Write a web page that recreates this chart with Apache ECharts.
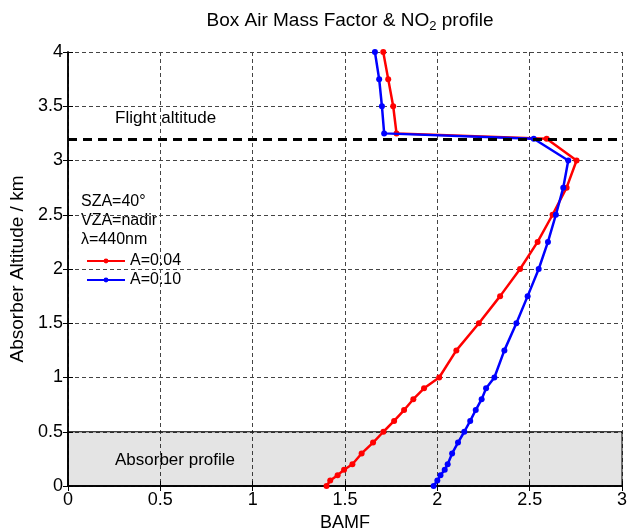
<!DOCTYPE html>
<html>
<head>
<meta charset="utf-8">
<script src="https://cdn.jsdelivr.net/npm/echarts@6/dist/echarts.min.js"></script>
<style>
  html, body { margin: 0; padding: 0; background: #fff; }
  #chart { width: 627px; height: 529px; }
</style>
</head>
<body>
<div id="chart"></div>
<script>
// Absorber layer altitudes (km) at which the box AMF was computed
const altitudes = [0, 0.05, 0.1, 0.15, 0.2, 0.3, 0.4, 0.5, 0.6, 0.7, 0.8, 0.9, 1.0,
  1.25, 1.5, 1.75, 2.0, 2.25, 2.5, 2.75, 3.0, 3.2, 3.25, 3.5, 3.75, 4.0];

// Box air mass factors for surface albedo 0.04
const bamfA004 = [1.40, 1.42, 1.46, 1.495, 1.54, 1.59, 1.652, 1.708, 1.766, 1.82, 1.87, 1.928, 2.01,
  2.103, 2.225, 2.34, 2.448, 2.543, 2.624, 2.70, 2.754, 2.592, 1.779, 1.761, 1.734, 1.707];

// Box air mass factors for surface albedo 0.10
const bamfA010 = [1.98, 2.0, 2.017, 2.04, 2.056, 2.08, 2.112, 2.146, 2.178, 2.208, 2.24, 2.264, 2.309,
  2.363, 2.428, 2.489, 2.549, 2.599, 2.642, 2.682, 2.709, 2.522, 1.712, 1.70, 1.685, 1.662];

const seriesNames = ['A=0.04', 'A=0.10'];
const flightAltitude = 3.2;
const absorberTop = 0.5;
const xTicks = ['0', '0.5', '1', '1.5', '2', '2.5', '3'];
const yTicks = ['0', '0.5', '1', '1.5', '2', '2.5', '3', '3.5', '4'];
const infoLines = ['SZA=40°', 'VZA=nadir', 'λ=440nm'];

const FONT = 'Liberation Sans, Arial, sans-serif';

function pairs(xs) {
  return xs.map((x, i) => [x, altitudes[i]]);
}

const chart = echarts.init(document.getElementById('chart'), null, { renderer: 'canvas' });

const axisCommon = {
  axisLine: { show: true, lineStyle: { color: '#000', width: 1.5 } },
  axisTick: { show: true, inside: true, length: 5, lineStyle: { color: '#000', width: 1 } }
};

const option = {
  animation: false,
  backgroundColor: '#fff',
  title: {
    text: 'Box Air Mass Factor & NO{sub|2} profile',
    left: 345,
    textAlign: 'center',
    top: 4,
    textStyle: {
      fontFamily: FONT, fontSize: 19, fontWeight: 'normal', color: '#000',
      rich: {
        sub: { fontFamily: FONT, fontSize: 13, color: '#000', padding: [11, 0, 0, 0] }
      }
    }
  },
  grid: { left: 68, right: 5, top: 52, bottom: 43, outerBoundsMode: 'none', containLabel: false },
  legend: {
    data: seriesNames,
    orient: 'vertical',
    left: 81,
    top: 248,
    itemWidth: 38,
    itemHeight: 6,
    itemGap: 3,
    textStyle: { fontFamily: FONT, fontSize: 16, color: '#000' }
  },
  xAxis: [{
    type: 'value', min: 0, max: 3, interval: 0.5,
    name: 'BAMF', nameLocation: 'middle', nameGap: 25,
    nameTextStyle: { fontFamily: FONT, fontSize: 18, color: '#000' },
    axisLabel: {
      fontFamily: FONT, fontSize: 18, color: '#000', margin: 5,
      formatter: (v) => xTicks[Math.round(v / 0.5)]
    },
    splitLine: { show: true, lineStyle: { color: '#444', width: 1, type: [4, 3] } },
    ...axisCommon
  }, {
    type: 'value', min: 0, max: 3, interval: 0.5, position: 'top',
    axisLabel: { show: false }, splitLine: { show: false },
    ...axisCommon
  }],
  yAxis: [{
    type: 'value', min: 0, max: 4, interval: 0.5,
    name: 'Absorber Altitude / km', nameLocation: 'middle', nameGap: 32,
    nameTextStyle: { fontFamily: FONT, fontSize: 19, color: '#000' },
    axisLabel: {
      fontFamily: FONT, fontSize: 18, color: '#000', margin: 5,
      formatter: (v) => yTicks[Math.round(v / 0.5)]
    },
    splitLine: { show: true, lineStyle: { color: '#444', width: 1, type: [4, 3] } },
    ...axisCommon
  }, {
    type: 'value', min: 0, max: 4, interval: 0.5, position: 'right',
    axisLabel: { show: false }, splitLine: { show: false },
    ...axisCommon
  }],
  series: [
    {
      // absorber profile band and flight altitude marker
      type: 'line', data: [], silent: true,
      markArea: {
        silent: true,
        itemStyle: { color: 'rgba(0,0,0,0.105)', borderColor: '#000', borderWidth: 1 },
        data: [[{ yAxis: 0 }, { yAxis: absorberTop }]]
      },
      markLine: {
        silent: true, symbol: 'none', label: { show: false },
        lineStyle: { color: '#000', width: 3, type: [9, 6] },
        data: [{ yAxis: flightAltitude }]
      }
    },
    {
      name: seriesNames[0], type: 'line', data: pairs(bamfA004),
      color: '#ff0000', symbol: 'circle', symbolSize: 6,
      lineStyle: { width: 2.5, color: '#ff0000' }, itemStyle: { color: '#ff0000' }, z: 3
    },
    {
      name: seriesNames[1], type: 'line', data: pairs(bamfA010),
      color: '#0000ff', symbol: 'circle', symbolSize: 6,
      lineStyle: { width: 2.5, color: '#0000ff' }, itemStyle: { color: '#0000ff' }, z: 4
    }
  ],
  graphic: [
    { type: 'text', left: 115, top: 110, style: { text: 'Flight altitude', font: '17px ' + FONT, fill: '#000' } },
    { type: 'text', left: 115, top: 452, style: { text: 'Absorber profile', font: '17px ' + FONT, fill: '#000' } },
    { type: 'text', left: 81, top: 194, style: { text: infoLines[0], font: '16px ' + FONT, fill: '#000' } },
    { type: 'text', left: 81, top: 213, style: { text: infoLines[1], font: '16px ' + FONT, fill: '#000' } },
    { type: 'text', left: 81, top: 232, style: { text: infoLines[2], font: '16px ' + FONT, fill: '#000' } }
  ]
};

chart.setOption(option);
</script>
</body>
</html>
